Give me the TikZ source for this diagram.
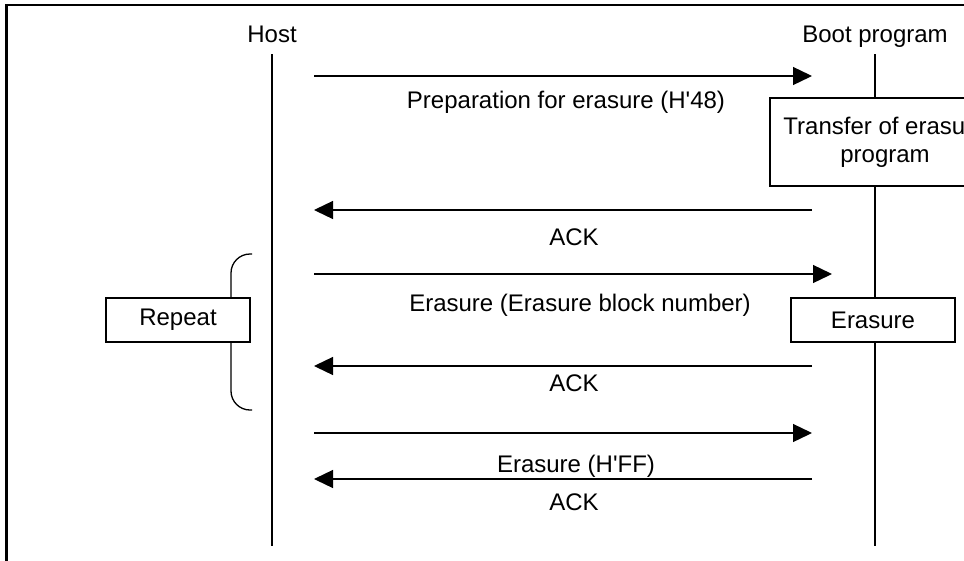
\documentclass[tikz,border=0pt]{standalone}
\usepackage{fontspec}
\setmainfont{Liberation Sans}
\usetikzlibrary{arrows.meta}
\begin{document}
\begin{tikzpicture}[x=1pt,y=-1pt,
  lifeline/.style={line width=1.3pt},
  msg/.style={line width=1.3pt,-{Triangle[length=19pt,width=18pt]}},
  lbl/.style={font=\fontsize{24}{28}\selectfont, anchor=base, inner sep=0pt},
  procbox/.style={draw, fill=white, line width=1.3pt, inner sep=0pt,
    font=\fontsize{24}{28}\selectfont, align=center},
  frame/.style={line width=2.5pt}
]
\useasboundingbox (0,0) rectangle (964,560);
\clip (0,0) rectangle (964,560);
\fill[white] (0,0) rectangle (964,560);

% outer frame (cropped)
\draw[frame] (6.5,562) -- (6.5,5) -- (966,5);

% headers
\node[lbl] (host) at (272,42) {Host};
\node[lbl] (boot) at (875,42) {Boot program};

% lifelines
\coordinate (hostTop) at (272,54);
\coordinate (hostBot) at (272,546);
\coordinate (bootTop) at (875,54);
\coordinate (bootBot) at (875,546);
\draw[lifeline] (hostTop) -- (hostBot);
\draw[lifeline] (bootTop) -- (bootBot);

% repeat brace
\coordinate (brTop) at (252,254);
\coordinate (brBot) at (252,410);
\draw[lifeline, rounded corners=19pt] (brTop) -- (231,254) -- (231,410) -- (brBot);

% boxes
\node[procbox, minimum width=230pt, minimum height=88pt] (transfer) at (885,142)
  {Transfer of erasure\\program};
\node[procbox, minimum width=164pt, minimum height=44pt] (erase) at (873,320) {Erasure};
\node[procbox, minimum width=144pt, minimum height=44pt] (repeat) at (178,320) {Repeat};

% messages
\coordinate (m1s) at (314,76);  \coordinate (m1e) at (812,76);
\coordinate (m2s) at (812,210); \coordinate (m2e) at (314,210);
\coordinate (m3s) at (314,274); \coordinate (m3e) at (832,274);
\coordinate (m4s) at (812,366); \coordinate (m4e) at (314,366);
\coordinate (m5s) at (314,433); \coordinate (m5e) at (812,433);
\coordinate (m6s) at (812,479); \coordinate (m6e) at (314,479);
\draw[msg] (m1s) -- (m1e);
\draw[msg] (m2s) -- (m2e);
\draw[msg] (m3s) -- (m3e);
\draw[msg] (m4s) -- (m4e);
\draw[msg] (m5s) -- (m5e);
\draw[msg] (m6s) -- (m6e);

% labels
\node[lbl] (l1) at (566,108) {Preparation for erasure (H\textquotesingle 48)};
\node[lbl] (l2) at (574,245) {ACK};
\node[lbl] (l3) at (580,311) {Erasure (Erasure block number)};
\node[lbl] (l4) at (574,391) {ACK};
\node[lbl] (l5) at (576,472) {Erasure (H\textquotesingle FF)};
\node[lbl] (l6) at (574,510) {ACK};
\end{tikzpicture}
\end{document}
